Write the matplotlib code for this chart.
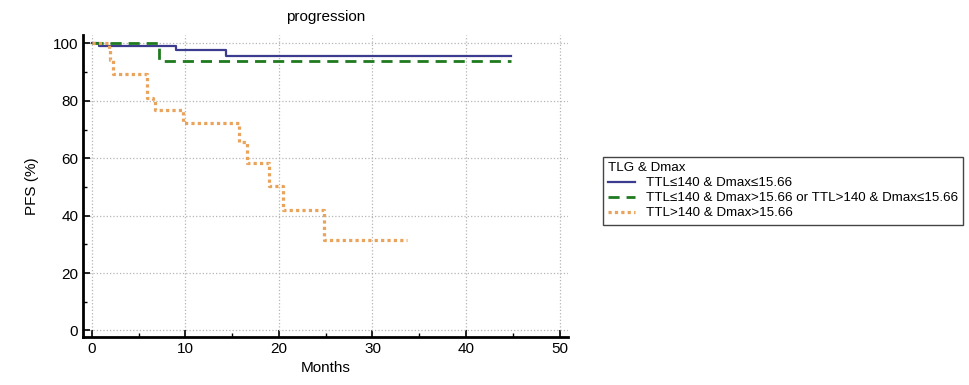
import matplotlib
matplotlib.use("Agg")
from matplotlib import pyplot as plt

# Kaplan-Meier style step curves (months, PFS %)
blue_t = [0, 0.8, 9.0, 14.4, 44.8]
blue_s = [100, 99.2, 97.6, 95.7, 95.7]

green_t = [0, 7.2, 44.8]
green_s = [100, 93.8, 93.8]

orange_t = [0, 1.8, 2.0, 2.3, 5.9, 6.5, 6.8, 9.7, 15.7, 16.6, 18.9, 20.4, 24.8, 33.7]
orange_s = [100, 97.6, 94.4, 89.2, 81.1, 79.8, 76.8, 72.3, 65.7, 58.5, 50.3, 41.9, 31.5, 31.5]

labels = ["TTL\u2264140 & Dmax\u226415.66",
          "TTL\u2264140 & Dmax>15.66 or TTL>140 & Dmax\u226415.66",
          "TTL>140 & Dmax>15.66"]

plt.rcParams['font.family'] = ['Liberation Sans', 'DejaVu Sans']

fig = plt.figure(figsize=(9.7, 3.85), dpi=100)
ax = fig.add_axes([0.0856, 0.1247, 0.5, 0.784])

l1, = ax.step(blue_t, blue_s, where='post', color='#3b3b8f', lw=1.6)
l2, = ax.step(green_t, green_s, where='post', color='#1f7a1f', lw=2, ls=(0, (4, 2.5)))
l3, = ax.step(orange_t, orange_s, where='post', color='#eaa35a', lw=2.3, ls=(0, (1, 1)))

ax.set_xlim(-0.93, 50.9)
ax.set_ylim(-2.3, 102.9)
ax.set_xticks([0, 10, 20, 30, 40, 50])
ax.set_xticks([5, 15, 25, 35, 45], minor=True)
ax.set_yticks([0, 20, 40, 60, 80, 100])
ax.set_yticks([10, 30, 50, 70, 90], minor=True)
ax.tick_params(direction='in', labelsize=11, width=1.2, length=5)
ax.tick_params(which='minor', direction='in', width=1, length=3)
ax.grid(True, which='major', ls=':', color='#b5b5b5', lw=0.9)

for s in ['top', 'right']:
    ax.spines[s].set_visible(False)
for s in ['left', 'bottom']:
    ax.spines[s].set_linewidth(2)

ax.set_title('progression', fontsize=11, pad=10)
ax.set_xlabel('Months', fontsize=11)
ax.set_ylabel('PFS (%)', fontsize=11, labelpad=10)

leg = fig.legend([l1, l2, l3], labels, title='TLG & Dmax', loc='upper left',
                 bbox_to_anchor=(0.6216, 0.592), borderaxespad=0,
                 fontsize=9.6, title_fontsize=9.6,
                 alignment='left', fancybox=False, edgecolor='#444444',
                 handlelength=2, handletextpad=0.8, borderpad=0.4,
                 labelspacing=0.2, framealpha=1)
leg.get_frame().set_linewidth(1)

fig.savefig('out.png', dpi=100)
